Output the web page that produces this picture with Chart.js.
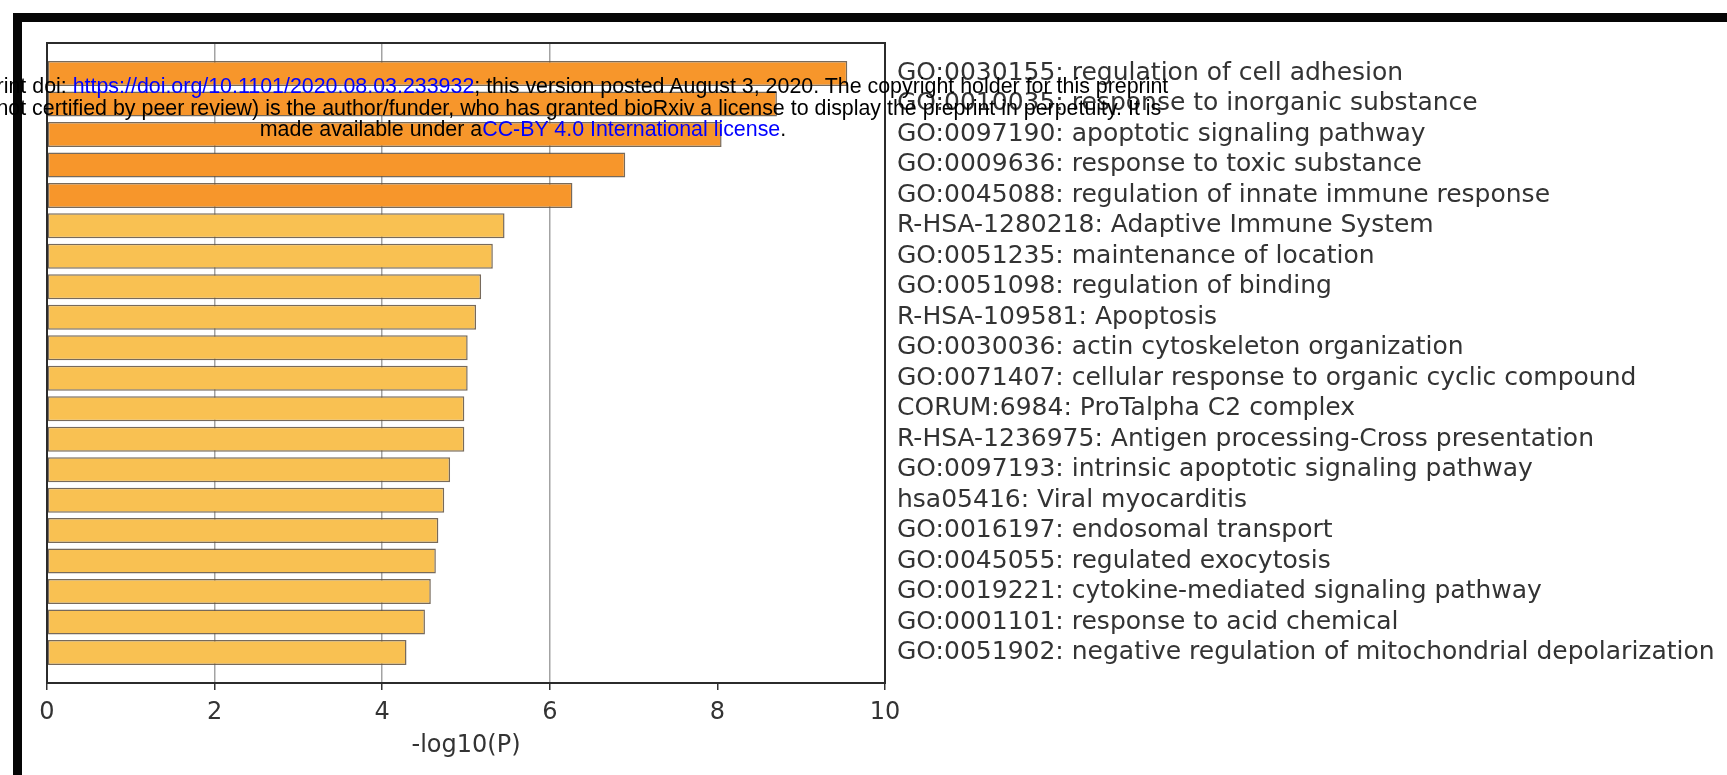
<!DOCTYPE html>
<html>
<head>
<meta charset="utf-8">
<title>Enrichment</title>
<script src="https://cdn.jsdelivr.net/npm/chart.js@4.4.0/dist/chart.umd.min.js"></script>
<style>
  html { overflow: hidden; }
  html, body { margin: 0; padding: 0; background: #fff; }
  body { width: 1727px; height: 775px; position: relative; overflow: hidden; }
  .edge { position: absolute; background: #050505; }
  #edgeTop { left: 13px; top: 13px; width: 1714px; height: 9px; }
  #edgeLeft { left: 13px; top: 13px; width: 9px; height: 762px; }
  #goChart { position: absolute; left: 0; top: 0; }
  #stamp {
    position: absolute; left: -177px; top: 76px; width: 1400px;
    font: 21.4px "Liberation Sans", Arial, sans-serif; line-height: 21.5px;
    text-align: center; color: #000; white-space: nowrap; z-index: 2;
  }
  #stamp a { color: #0000ff; text-decoration: none; }
</style>
</head>
<body>
<div class="edge" id="edgeTop"></div>
<div class="edge" id="edgeLeft"></div>
<canvas id="goChart" width="1727" height="775"></canvas>
<div id="stamp">
  bioRxiv preprint doi: <a>https://doi.org/10.1101/2020.08.03.233932</a>; this version posted August 3, 2020. The copyright holder for this preprint<br>
  (which was not certified by peer review) is the author/funder, who has granted bioRxiv a license to display the preprint in perpetuity. It is<br>
  made available under a<a>CC-BY 4.0 International license</a>.
</div>
<script>
const terms = [
  "GO:0030155: regulation of cell adhesion",
  "GO:0010035: response to inorganic substance",
  "GO:0097190: apoptotic signaling pathway",
  "GO:0009636: response to toxic substance",
  "GO:0045088: regulation of innate immune response",
  "R-HSA-1280218: Adaptive Immune System",
  "GO:0051235: maintenance of location",
  "GO:0051098: regulation of binding",
  "R-HSA-109581: Apoptosis",
  "GO:0030036: actin cytoskeleton organization",
  "GO:0071407: cellular response to organic cyclic compound",
  "CORUM:6984: ProTalpha C2 complex",
  "R-HSA-1236975: Antigen processing-Cross presentation",
  "GO:0097193: intrinsic apoptotic signaling pathway",
  "hsa05416: Viral myocarditis",
  "GO:0016197: endosomal transport",
  "GO:0045055: regulated exocytosis",
  "GO:0019221: cytokine-mediated signaling pathway",
  "GO:0001101: response to acid chemical",
  "GO:0051902: negative regulation of mitochondrial depolarization",
];
const logP = [9.55, 8.71, 8.05, 6.90, 6.27, 5.46, 5.32, 5.18, 5.12, 5.02,
              5.02, 4.98, 4.98, 4.81, 4.74, 4.67, 4.64, 4.58, 4.51, 4.29];
const xMax = 10;
const xStep = 2;

const darkOrange = "#f7962b";
const lightOrange = "#f9c152";
const textGrey = "#333333";
const axisFont = { family: "'DejaVu Sans', sans-serif", size: 24 };
const termFont = { family: "'DejaVu Sans', sans-serif", size: 25 };

// box round the plot, like the matplotlib axes frame
const plotFrame = {
  id: "plotFrame",
  afterDatasetsDraw(chart) {
    const { ctx, chartArea: a } = chart;
    ctx.save();
    ctx.strokeStyle = "#2b2b2b";
    ctx.lineWidth = 2;
    ctx.strokeRect(a.left, a.top, a.right - a.left, a.bottom - a.top);
    ctx.restore();
  },
};

new Chart(document.getElementById("goChart"), {
  type: "bar",
  data: {
    datasets: [
      {
        data: logP.map((v, i) => ({ x: v, y: i })),
        backgroundColor: logP.map((v) => (v >= 6 ? darkOrange : lightOrange)),
        borderColor: "rgba(95,80,62,0.85)",
        borderWidth: 1.5,
        borderSkipped: false,
        categoryPercentage: 0.82,
        barPercentage: 1,
      },
    ],
  },
  options: {
    indexAxis: "y",
    responsive: false,
    animation: false,
    layout: { padding: { left: 47, top: 43, right: 0, bottom: 0 } },
    plugins: {
      legend: { display: false },
      tooltip: { enabled: false },
    },
    scales: {
      x: {
        type: "linear",
        min: 0,
        max: xMax,
        ticks: { stepSize: xStep, color: textGrey, padding: 8, font: axisFont },
        grid: {
          color: (c) => ([2, 4, 6].includes(c.tick && c.tick.value) ? "#a3a3a3" : "rgba(0,0,0,0)"),
          lineWidth: 1.5,
          tickLength: 7,
          tickColor: "#333",
          tickWidth: 1.5,
        },
        border: { display: false },
        title: {
          display: true,
          text: "-log10(P)",
          color: textGrey,
          font: axisFont,
          padding: { top: 4, bottom: 15 },
        },
        afterFit: (s) => {
          s.height = 92;
        },
      },
      y: {
        type: "linear",
        position: "right",
        reverse: true,
        offset: false,
        min: -1,
        max: terms.length,
        ticks: {
          stepSize: 1,
          autoSkip: false,
          padding: 12,
          color: textGrey,
          font: termFont,
          callback: (v) => terms[v] ?? "",
        },
        grid: { display: false, drawTicks: false, offset: false },
        border: { display: false },
        afterFit: (s) => {
          s.width = 842;
        },
      },
    },
  },
  plugins: [plotFrame],
});
</script>
</body>
</html>
